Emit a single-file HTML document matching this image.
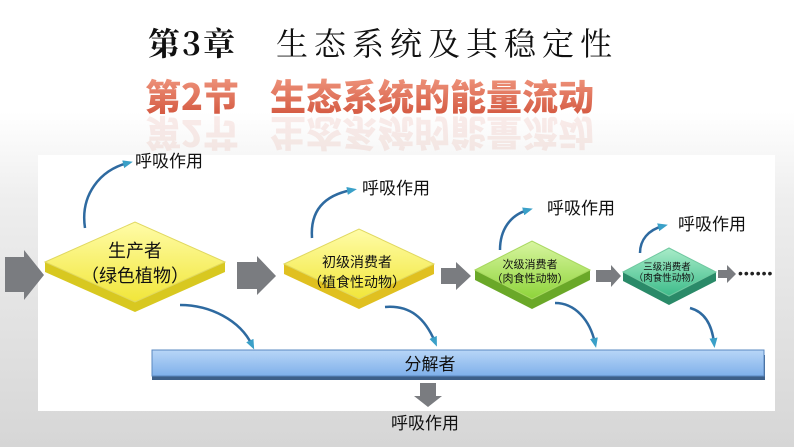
<!DOCTYPE html>
<html><head><meta charset="utf-8"><style>
body{margin:0;width:794px;height:447px;overflow:hidden;background:linear-gradient(#fff 0%,#fff 25%,#eee 45%,#d6d6d6 100%);font-family:"Liberation Sans","Noto Sans CJK SC",sans-serif}
svg{position:absolute;left:0;top:0}
</style></head><body>
<svg width="794" height="447" viewBox="0 0 794 447">
<defs>
<linearGradient id="y" x1="0" y1="0" x2="0" y2="1"><stop offset="0" stop-color="#fffca8"/><stop offset="1" stop-color="#f1e63a"/></linearGradient>
<linearGradient id="g" x1="0" y1="0" x2="0" y2="1"><stop offset="0" stop-color="#d8f5a0"/><stop offset="1" stop-color="#8ed43a"/></linearGradient>
<linearGradient id="t" x1="0" y1="0" x2="0" y2="1"><stop offset="0" stop-color="#a8ecc8"/><stop offset="1" stop-color="#3dbb8a"/></linearGradient>
<linearGradient id="b" x1="0" y1="0" x2="0" y2="1"><stop offset="0" stop-color="#b8d6f7"/><stop offset="1" stop-color="#7fb0ea"/></linearGradient>
<linearGradient id="r" x1="0" y1="0" x2="0" y2="1"><stop offset="0" stop-color="#f4a088"/><stop offset="1" stop-color="#d05038"/></linearGradient>
<marker id="a" markerUnits="userSpaceOnUse" markerWidth="10" markerHeight="10" refX="5" refY="5" orient="auto"><path d="M0,1 L10,5 L0,9 Z" fill="#3aa0c8"/></marker>
</defs>
<text x="148" y="55" font-family="'Noto Serif CJK SC',serif" font-size="32" font-weight="bold" fill="#111" letter-spacing="2">第3章</text>
<text x="276" y="55" font-family="'Noto Serif CJK SC',serif" font-size="32" fill="#111" letter-spacing="6">生态系统及其稳定性</text>
<text x="145" y="110" font-family="'Noto Sans CJK SC',sans-serif" font-size="36" font-weight="900" fill="url(#r)">第2节</text>
<text x="270" y="110" font-family="'Noto Sans CJK SC',sans-serif" font-size="36" font-weight="900" fill="url(#r)">生态系统的能量流动</text>
<g transform="translate(0,230) scale(1,-1)" opacity="0.1">
<text x="145" y="110" font-family="'Noto Sans CJK SC',sans-serif" font-size="36" font-weight="900" fill="#d05038">第2节</text>
<text x="270" y="110" font-family="'Noto Sans CJK SC',sans-serif" font-size="36" font-weight="900" fill="#d05038">生态系统的能量流动</text>
</g>
<rect x="38" y="155" width="737" height="256" fill="#fff"/>
<g fill="#7a7c80">
<path d="M5,257 H24 V250 L44,275 L24,300 V292 H5Z"/>
<path d="M237,262 H257 V256 L276,276 L257,295 V289 H237Z"/>
<path d="M441,268 H456 V262 L471,276 L456,290 V284 H441Z"/>
<path d="M596,270 H611 V265 L621,276 L611,287 V282 H596Z"/>
<path d="M718,270 H727 V265 L736,274 L727,283 V278 H718Z"/>
<path d="M420,383 H436 V396 H442 L428,407 L414,396 H420Z"/>
</g>
<text x="738" y="278" font-size="14" fill="#222" letter-spacing="1">••••••</text>
<g fill="none" stroke="#2e6aa0" stroke-width="2.5" marker-end="url(#a)">
<path d="M85,228 C80,195 100,170 128,163"/>
<path d="M312,238 C310,210 325,195 352,190"/>
<path d="M500,250 C500,230 510,215 528,210"/>
<path d="M640,253 C640,240 648,230 663,226"/>
<path d="M180,305 C210,305 240,320 252,345"/>
<path d="M385,307 C410,305 425,318 435,342"/>
<path d="M555,303 C575,303 590,320 595,343"/>
<path d="M690,308 C705,312 712,325 714,343"/>
</g>
<rect x="152" y="355" width="613" height="25" fill="#3d5f88"/>
<rect x="152" y="350" width="612" height="26" fill="url(#b)" stroke="#5a88c0"/>
<text x="430" y="370" text-anchor="middle" font-size="17" fill="#111">分解者</text>
<path d="M45,262 L135,222 L225,262 V272 L135,312 L45,272Z" fill="#d8c820"/>
<path d="M45,262 L135,222 L225,262 L135,302Z" fill="url(#y)" stroke="#e0d860"/>
<text x="135" y="257" text-anchor="middle" font-size="18" fill="#111">生产者</text>
<text x="135" y="282" text-anchor="middle" font-size="18" fill="#111">（绿色植物）</text>
<path d="M284,264 L359,229 L434,264 V274 L359,309 L284,274Z" fill="#e0c020"/>
<path d="M284,264 L359,229 L434,264 L359,299Z" fill="url(#y)" stroke="#e0d860"/>
<text x="357" y="267" text-anchor="middle" font-size="14" fill="#111">初级消费者</text>
<text x="357" y="287" text-anchor="middle" font-size="14" fill="#111">（植食性动物）</text>
<path d="M475,270 L532,241 L590,270 V280 L532,309 L475,280Z" fill="#6aa828"/>
<path d="M475,270 L532,241 L590,270 L532,299Z" fill="url(#g)" stroke="#a8d860"/>
<text x="530" y="268" text-anchor="middle" font-size="11" fill="#111">次级消费者</text>
<text x="530" y="282" text-anchor="middle" font-size="11" fill="#111">（肉食性动物）</text>
<path d="M623,272 L669,248 L716,272 V281 L669,305 L623,281Z" fill="#2a8a68"/>
<path d="M623,272 L669,248 L716,272 L669,296Z" fill="url(#t)" stroke="#70c8a0"/>
<text x="667" y="270" text-anchor="middle" font-size="9.5" fill="#111">三级消费者</text>
<text x="667" y="281" text-anchor="middle" font-size="9.5" fill="#111">（肉食性动物）</text>
<g font-size="17" fill="#111">
<text x="135" y="167">呼吸作用</text>
<text x="362" y="194">呼吸作用</text>
<text x="547" y="214">呼吸作用</text>
<text x="678" y="230">呼吸作用</text>
<text x="391" y="429">呼吸作用</text>
</g>
</svg>
</body></html>
